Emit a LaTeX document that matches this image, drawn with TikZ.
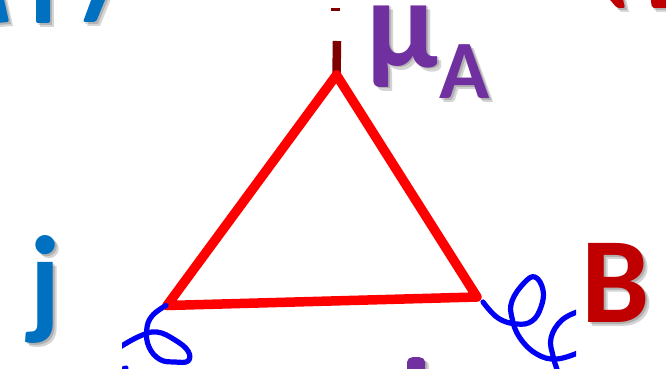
\documentclass[tikz,border=0pt]{standalone}
\usepackage{fontspec}
\setmainfont{Carlito}
\definecolor{mublue}{HTML}{0070C0}
\definecolor{mupurple}{HTML}{7030A0}
\definecolor{mured}{HTML}{C00000}
\definecolor{stemred}{HTML}{7F0000}
\definecolor{gluonblue}{HTML}{0000F5}
\tikzset{
  biglabel/.style={inner sep=0pt,font=\fontsize{127}{127}\selectfont\bfseries},
  blabel/.style={inner sep=0pt,font=\fontsize{122}{122}\selectfont\bfseries},
  jlabel/.style={inner sep=0pt,font=\fontsize{124}{124}\selectfont\bfseries},
  sublabel/.style={inner sep=0pt,font=\fontsize{83}{83}\selectfont\bfseries},
  softshadow/.style={opacity=.17,text=black,fill=none},
  loopline/.style={red,line width=9.5pt,line join=round},
  stemline/.style={stemred,line width=8.5pt},
  gluon/.style={gluonblue,line width=5.2pt,line cap=round,line join=round},
  fragshadow/.style={black,opacity=.16,draw=none},
}
\newcommand{\shadowtext}[5]{% style, colour, x, y, text
  \foreach \dx/\dy in {2/2,4/4}{
    \node[#1,softshadow,anchor=base] at (#3+\dx,#4+\dy) {#5};
  }
  \node[#1,text=#2,anchor=base] (n#3) at (#3,#4) {#5};
}
\newcommand{\fragment}[2]{% colour, polygon
  \foreach \dx/\dy in {2/2,4/4}{
    \fill[fragshadow,shift={(\dx,\dy)}] #2;
  }
  \fill[#1,rounded corners=2pt] #2;
}
\begin{document}
\begin{tikzpicture}[x=1pt,y=-1pt]
\useasboundingbox (0,0) rectangle (666,369);
\fill[white] (0,0) rectangle (666,369);
\begin{scope}
\clip (0,0) rectangle (666,369);
% clipped glyph fragments at the edges
\fragment{mublue}{(-5,-5) -- (3,-5) -- (9,22) -- (-5,23) -- cycle}
\fragment{mublue}{(36,-5) -- (50,-5) -- (50,23) -- (36,23) -- cycle}
\fragment{mublue}{(93,-5) -- (107,-5) -- (96,22) -- (83,22) -- cycle}
\fragment{mured}{(606,-5) -- (622,-5) -- (625,8) -- (617,8) -- cycle}
\fragment{mured}{(650,-5) -- (670,-5) -- (670,8) -- (652,8) -- cycle}
\fragment{mupurple}{(407,375) -- (407,360) -- (411,357) -- (421,357) -- (425,360) -- (425,375) -- cycle}
% labels
\shadowtext{biglabel}{mupurple}{402}{67}{μ}
\shadowtext{sublabel}{mupurple}{465}{98}{A}
\shadowtext{jlabel}{mublue}{45}{322}{j}
\shadowtext{blabel}{mured}{616}{322}{B}
\end{scope}
% diagram
\coordinate (apex) at (336.5,75);
\coordinate (left) at (167,305.5);
\coordinate (right) at (477,297);
\coordinate (stemtop) at (337,41);
\coordinate (dashL) at (331,10);
\coordinate (dashR) at (340,10);
\draw[stemline] (apex) -- (stemtop);
\draw[stemred,line width=3pt] (dashL) -- (dashR);
\draw[loopline] (apex) -- (left) -- (right) -- cycle;
\begin{scope}
\clip (122,0) rectangle (576,369);
\draw[gluon] plot[smooth,tension=.7] coordinates {(166,305.5) (152,316) (146.7,330) (149,347) (160,359.5) (175,362) (188,361) (188,351) (175,340) (157,332) (140,336) (120,347)};
\draw[gluon] (120,370) -- (126,368);
\draw[gluon] plot[smooth,tension=.7] coordinates {(483,302) (498,318) (516.7,324) (532,321) (541,307) (543,290) (535,277) (524,283) (512,301) (512,318) (520,338) (536.7,354) (556.7,359) (580,352)};
\draw[gluon] plot[smooth,tension=.7] coordinates {(580,311) (562,320) (551,338) (553.3,357) (558,372)};
\end{scope}
\end{tikzpicture}
\end{document}
